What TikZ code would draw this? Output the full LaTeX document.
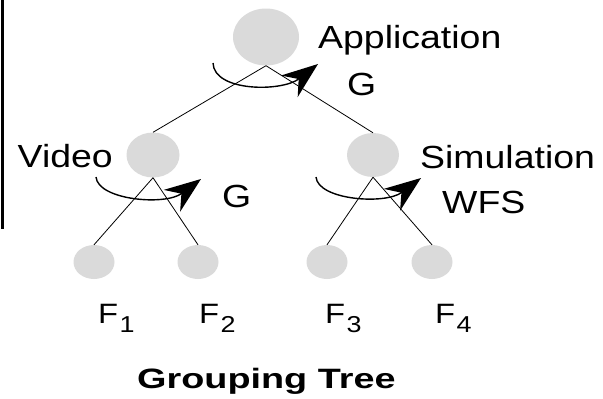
\documentclass[tikz,border=0pt]{standalone}
\usepackage{fontspec}
\setmainfont{Liberation Sans}
\newfontfamily\treefont[FakeStretch=1.17]{Liberation Sans}
\newfontfamily\titlefont[FakeStretch=1.35]{Liberation Sans}
\usetikzlibrary{shapes.geometric, arrows.meta, positioning}
\definecolor{nodegray}{RGB}{218,218,218}
\newcommand{\fsub}[1]{F\kern1.5pt\raisebox{-9pt}{\fontsize{23}{23}\selectfont #1}}

\begin{document}
\begin{tikzpicture}[x=1pt, y=-1pt,
    grp/.style = {ellipse, fill=nodegray, inner sep=0pt},
    leaf/.style = {grp, minimum width=41pt, minimum height=34pt},
    lbl/.style = {inner sep=0pt, font=\treefont\fontsize{32}{32}\selectfont},
    flbl/.style = {inner sep=0pt, anchor=base west, font=\treefont\fontsize{28}{28}\selectfont},
    grouparrow/.style = {line width=1.4pt, arrows={-Stealth[scale=3.9]}}]
  \useasboundingbox (0,0) rectangle (603,399);
  \draw[line width=2.5pt] (2.5,0) -- (2.5,229);

  % tree
  \node (app) [grp, minimum width=66pt, minimum height=57pt] at (266,37) {};
  \node (vid) [grp, minimum width=53pt, minimum height=45pt] at (153,155) {};
  \node (sim) [grp, minimum width=52pt, minimum height=44pt] at (373,155) {};
  \node (f1) [leaf] at (94,262) {};
  \node (f2) [leaf] at (198,262) {};
  \node (f3) [leaf] at (327,262) {};
  \node (f4) [leaf] at (432,262) {};

  \draw[line width=0.8pt] (app.south) -- (vid.north)
                          (app.south) -- (sim.north)
                          (vid.south) -- (f1.north)
                          (vid.south) -- (f2.north)
                          (sim.south) -- (f3.north)
                          (sim.south) -- (f4.north);

  % grouping arrows
  \draw[grouparrow] (213,63) .. controls (214,92) and (282,92) .. (318,64);
  \draw[grouparrow] (96,177) .. controls (98,200) and (165,206) .. (201,179);
  \draw[grouparrow] (316,177) .. controls (318,200) and (385,205) .. (421,178);

  % labels
  \node (appl) [lbl, anchor=base west] at (318,48) {Application};
  \node (appg) [lbl, anchor=base west] at (347,95) {G};
  \node (vidl) [lbl, anchor=base east] at (113,167) {Video};
  \node (vidg) [lbl, anchor=base west] at (222,207) {G};
  \node (siml) [lbl, anchor=base west] at (420,168) {Simulation};
  \node (simg) [lbl, anchor=base west] at (442,213) {WFS};

  \node (l1) [flbl] at (98,323) {\fsub{1}};
  \node (l2) [flbl] at (199,323) {\fsub{2}};
  \node (l3) [flbl] at (325,323) {\fsub{3}};
  \node (l4) [flbl] at (435,323) {\fsub{4}};

  \node (title) [inner sep=0pt, anchor=base west,
                 font=\titlefont\bfseries\fontsize{28}{28}\selectfont]
        at (137,388) {Grouping Tree};
\end{tikzpicture}
\end{document}
